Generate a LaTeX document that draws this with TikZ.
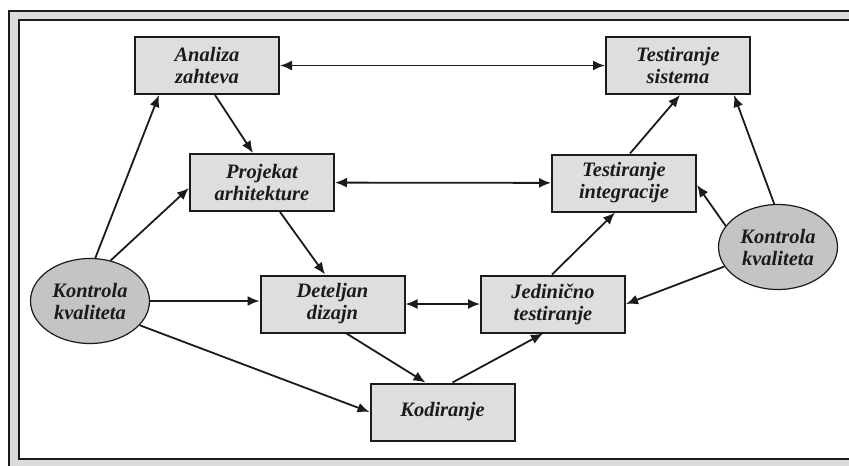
\documentclass[tikz,border=0pt]{standalone}
\usepackage{fontspec}
\setmainfont{Liberation Serif}
\newfontfamily\labfont{Liberation Serif Bold Italic}
\usetikzlibrary{arrows.meta,shapes.geometric}
\definecolor{boxgray}{RGB}{222,222,222}
\definecolor{ellgray}{RGB}{196,196,196}
\definecolor{band}{RGB}{220,220,220}
\definecolor{ink}{RGB}{30,26,27}
\begin{document}
\begin{tikzpicture}[x=1pt,y=-1pt,
  lbl/.style={font=\labfont\fontsize{20.5}{22}\selectfont, text=ink, align=center},
  box/.style={lbl, draw=ink, line width=2pt, fill=boxgray, minimum width=144pt, minimum height=57pt, inner sep=0pt},
  ell/.style={lbl, ellipse, draw=ink, line width=1.2pt, fill=ellgray, minimum width=119pt, minimum height=85pt, inner sep=0pt},
  arr/.style={-{Latex[length=12pt,width=10pt]}, line width=1.8pt, draw=ink},
  darr/.style={{Latex[length=12pt,width=10pt]}-{Latex[length=12pt,width=10pt]}, line width=1.8pt, draw=ink}]
\useasboundingbox (0,0) rectangle (849,466);
\clip (0,0) rectangle (849,466);
\draw[line width=2pt, draw=ink, fill=band] (8.5,10.5) rectangle (880,490);
\draw[line width=2pt, draw=ink, fill=white] (18.5,20) rectangle (870,459);

\node[box] (ana) at (207,65.5) {Analiza\\zahteva};
\node[box] (sis) at (678,65.5) {Testiranje\\sistema};
\node[box] (proj) at (262,182.5) {Projekat\\arhitekture};
\node[box] (integ) at (624,183) {Testiranje\\integracije};
\node[box] (det) at (332.5,304) {Deteljan\\dizajn};
\node[box] (jed) at (553,304) {Jedinično\\testiranje};
\node[box] (kod) at (442.5,412) {Kodiranje};
\node[ell] (kl) at (90,301) {Kontrola\\kvaliteta};
\node[ell] (kd) at (778,247) {Kontrola\\kvaliteta};

\draw[darr] (ana) -- (sis);
\draw[arr] ([xshift=8pt]ana.south) -- ([xshift=-9pt]proj.north);
\draw[darr] (proj) -- (integ);
\draw[arr] ([xshift=18pt]proj.south) -- ([xshift=-7.5pt]det.north);
\draw[darr] (det) -- (jed);
\draw[arr] ([xshift=14pt]det.south) -- ([xshift=-17pt]kod.north);
\draw[arr] ([xshift=10pt]kod.north) -- ([xshift=-10pt]jed.south);
\draw[arr] ([xshift=-1pt]jed.north) -- ([xshift=-9pt]integ.south);
\draw[arr] ([xshift=6pt]integ.north) -- ([xshift=2pt]sis.south);
\draw[arr] (kl.83) -- ([xshift=25pt]ana.south west);
\draw[arr] (kl.63) -- ([yshift=-5.5pt]proj.west);
\draw[arr] (kl.east) -- (kl.east -| det.west);
\draw[arr] (kl.-26) -- (kod.west);
\draw[arr] (kd.95) -- ([xshift=-17pt]sis.south east);
\draw[arr] (kd.158) -- ([yshift=-2pt]integ.east);
\draw[arr] (kd.200) -- (jed.east);
\end{tikzpicture}
\end{document}
